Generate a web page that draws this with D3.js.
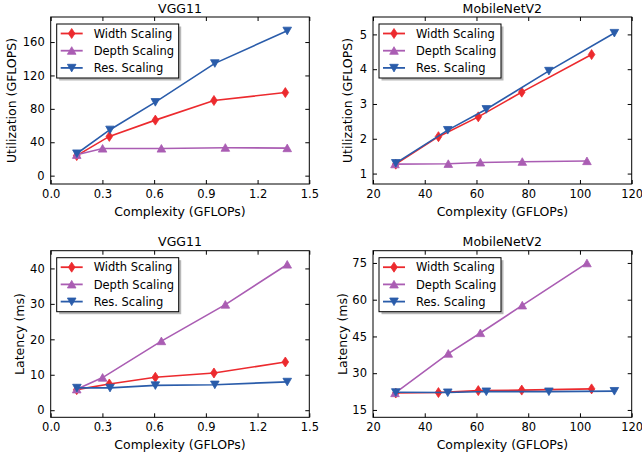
<!DOCTYPE html>
<html>
<head>
<meta charset="utf-8">
<script src="https://cdn.jsdelivr.net/npm/d3@7"></script>
<style>
  body { margin: 0; background: #fff; }
  svg text { font-family: "DejaVu Sans", sans-serif; font-weight: normal; }
</style>
</head>
<body>
<div id="chart"></div>
<script>
const width = 642;
const height = 457;

const seriesNames = ["Width Scaling", "Depth Scaling", "Res. Scaling"];

// VGG11 complexity (GFLOPs) per series
const vggWidthX = [0.151, 0.34, 0.607, 0.947, 1.361];
const vggDepthX = [0.151, 0.301, 0.642, 1.013, 1.372];
const vggResX = [0.152, 0.344, 0.607, 0.952, 1.372];

// MobileNetV2 complexity per series
const mbWidthX = [28.8, 45.3, 60.7, 77.5, 104.5];
const mbDepthX = [28.5, 49.1, 61.5, 77.7, 102.7];
const mbResX = [28.8, 48.9, 63.8, 88.0, 113.3];

// utilization (GFLOPS)
const vggWidthUtil = [24, 47, 66.5, 90, 99.5];
const vggDepthUtil = [25, 32.5, 32.5, 33.5, 33];
const vggResUtil = [26.5, 55, 88, 134.5, 173.5];
const mbWidthUtil = [1.27, 2.06, 2.63, 3.34, 4.42];
const mbDepthUtil = [1.27, 1.28, 1.32, 1.34, 1.36];
const mbResUtil = [1.3, 2.25, 2.85, 3.95, 5.04];

// latency (ms)
const vggWidthLat = [5.8, 7.4, 9.3, 10.5, 13.6];
const vggDepthLat = [5.9, 9.2, 19.5, 29.8, 41.1];
const vggResLat = [6.3, 6.3, 7.0, 7.2, 8.0];
const mbWidthLat = [21.9, 22.1, 22.9, 23.1, 23.6];
const mbDepthLat = [21.9, 38.0, 46.4, 57.7, 74.9];
const mbResLat = [22.2, 22.1, 22.5, 22.5, 22.7];

const vggXTicks = [0, 0.3, 0.6, 0.9, 1.2, 1.5];
const mbXTicks = [20, 40, 60, 80, 100, 120];
const vggUtilTicks = [0, 40, 80, 120, 160];
const mbUtilTicks = [1, 2, 3, 4, 5];
const vggLatTicks = [0, 10, 20, 30, 40];
const mbLatTicks = [15, 30, 45, 60, 75];

const colors = ["#ec2a2e", "#aa5db3", "#2a5caa"];
const markers = ["thin", "up", "down"];

const panels = [
  { title: "VGG11", ylabel: "Utilization (GFLOPS)", box: [50.7, 17, 309.3, 184],
    xDomain: [0, 1.5], yDomain: [-10, 190], xTicks: vggXTicks, yTicks: vggUtilTicks,
    xFmt: d3.format(".1f"), yLabelOff: 35,
    xs: [vggWidthX, vggDepthX, vggResX], ys: [vggWidthUtil, vggDepthUtil, vggResUtil] },
  { title: "MobileNetV2", ylabel: "Utilization (GFLOPS)", box: [373, 17, 631.7, 184],
    xDomain: [20, 120], yDomain: [0.7, 5.5], xTicks: mbXTicks, yTicks: mbUtilTicks,
    xFmt: d3.format("d"), yLabelOff: 21,
    xs: [mbWidthX, mbDepthX, mbResX], ys: [mbWidthUtil, mbDepthUtil, mbResUtil] },
  { title: "VGG11", ylabel: "Latency (ms)", box: [50.7, 250.7, 309.3, 417.3],
    xDomain: [0, 1.5], yDomain: [-2, 45], xTicks: vggXTicks, yTicks: vggLatTicks,
    xFmt: d3.format(".1f"), yLabelOff: 27,
    xs: [vggWidthX, vggDepthX, vggResX], ys: [vggWidthLat, vggDepthLat, vggResLat] },
  { title: "MobileNetV2", ylabel: "Latency (ms)", box: [373, 250.7, 631.7, 417.3],
    xDomain: [20, 120], yDomain: [12, 80], xTicks: mbXTicks, yTicks: mbLatTicks,
    xFmt: d3.format("d"), yLabelOff: 26,
    xs: [mbWidthX, mbDepthX, mbResX], ys: [mbWidthLat, mbDepthLat, mbResLat] },
];

const markerPath = (type) => {
  if (type === "thin") return "M0,-5L3.3,0L0,5L-3.3,0Z";
  if (type === "up") return "M0,-4L4.3,3.6L-4.3,3.6Z";
  return "M0,4L4.3,-3.6L-4.3,-3.6Z";
};

const svg = d3.select("#chart").append("svg")
  .attr("width", width)
  .attr("height", height);

const drawPanel = (p) => {
  const [x0, y0, x1, y1] = p.box;
  const x = d3.scaleLinear().domain(p.xDomain).range([x0, x1]);
  const y = d3.scaleLinear().domain(p.yDomain).range([y1, y0]);
  const g = svg.append("g");

  // axes, ticks pointing inward on all sides
  const styleAxis = (sel) => {
    sel.attr("font-family", null).attr("font-size", null);
    sel.select(".domain").remove();
    sel.selectAll("line").attr("stroke", "#000").attr("stroke-width", 1);
    sel.selectAll("text").attr("fill", "#000").style("font-size", "11.5px");
  };
  g.append("g").attr("transform", `translate(0,${y1})`)
    .call(d3.axisBottom(x).tickValues(p.xTicks).tickFormat(p.xFmt).tickSizeInner(-4).tickSizeOuter(0).tickPadding(6))
    .call(styleAxis);
  g.append("g").attr("transform", `translate(0,${y0})`)
    .call(d3.axisTop(x).tickValues(p.xTicks).tickFormat("").tickSizeInner(-4).tickSizeOuter(0))
    .call(styleAxis);
  g.append("g").attr("transform", `translate(${x0},0)`)
    .call(d3.axisLeft(y).tickValues(p.yTicks).tickFormat(d3.format("d")).tickSizeInner(-4).tickSizeOuter(0).tickPadding(6))
    .call(styleAxis);
  g.append("g").attr("transform", `translate(${x1},0)`)
    .call(d3.axisRight(y).tickValues(p.yTicks).tickFormat("").tickSizeInner(-4).tickSizeOuter(0))
    .call(styleAxis);

  // series
  const line = d3.line().x((d) => x(d[0])).y((d) => y(d[1]));
  p.xs.forEach((xs, i) => {
    const pts = xs.map((v, j) => [v, p.ys[i][j]]);
    g.append("path")
      .attr("d", line(pts))
      .attr("fill", "none")
      .attr("stroke", colors[i])
      .attr("stroke-width", 1.6);
    g.selectAll(null)
      .data(pts)
      .enter()
      .append("path")
      .attr("transform", (d) => `translate(${x(d[0])},${y(d[1])})`)
      .attr("d", markerPath(markers[i]))
      .attr("fill", colors[i])
      .attr("stroke", colors[i])
      .attr("stroke-width", 0.8);
  });

  // frame
  g.append("rect")
    .attr("x", x0).attr("y", y0)
    .attr("width", x1 - x0).attr("height", y1 - y0)
    .attr("fill", "none").attr("stroke", "#000").attr("stroke-width", 1);

  // legend with shadow
  const lx = x0 + 6, ly = y0 + 7, lw = 122, lh = 54;
  g.append("rect")
    .attr("x", lx + 2.5).attr("y", ly + 2.5)
    .attr("width", lw).attr("height", lh)
    .attr("fill", "#888").attr("opacity", 0.6);
  g.append("rect")
    .attr("x", lx).attr("y", ly)
    .attr("width", lw).attr("height", lh)
    .attr("fill", "#fff").attr("stroke", "#000").attr("stroke-width", 1);
  seriesNames.forEach((name, i) => {
    const cy = ly + 9.5 + i * 17.2;
    g.append("line")
      .attr("x1", lx + 4).attr("x2", lx + 26)
      .attr("y1", cy).attr("y2", cy)
      .attr("stroke", colors[i]).attr("stroke-width", 1.8);
    g.append("path")
      .attr("transform", `translate(${lx + 15},${cy})`)
      .attr("d", markerPath(markers[i]))
      .attr("fill", colors[i]).attr("stroke", colors[i]).attr("stroke-width", 0.8);
    g.append("text")
      .attr("x", lx + 37).attr("y", cy + 4.2)
      .style("font-size", "11.5px")
      .text(name);
  });

  // titles and labels
  g.append("text")
    .attr("x", (x0 + x1) / 2).attr("y", y0 - 4.5)
    .attr("text-anchor", "middle")
    .style("font-size", "12.5px")
    .text(p.title);
  g.append("text")
    .attr("x", (x0 + x1) / 2).attr("y", y1 + 31.5)
    .attr("text-anchor", "middle")
    .style("font-size", "12.5px")
    .text("Complexity (GFLOPs)");
  g.append("text")
    .attr("transform", `translate(${x0 - p.yLabelOff},${(y0 + y1) / 2}) rotate(-90)`)
    .attr("text-anchor", "middle")
    .style("font-size", "12.5px")
    .text(p.ylabel);
};

panels.forEach(drawPanel);
</script>
</body>
</html>
